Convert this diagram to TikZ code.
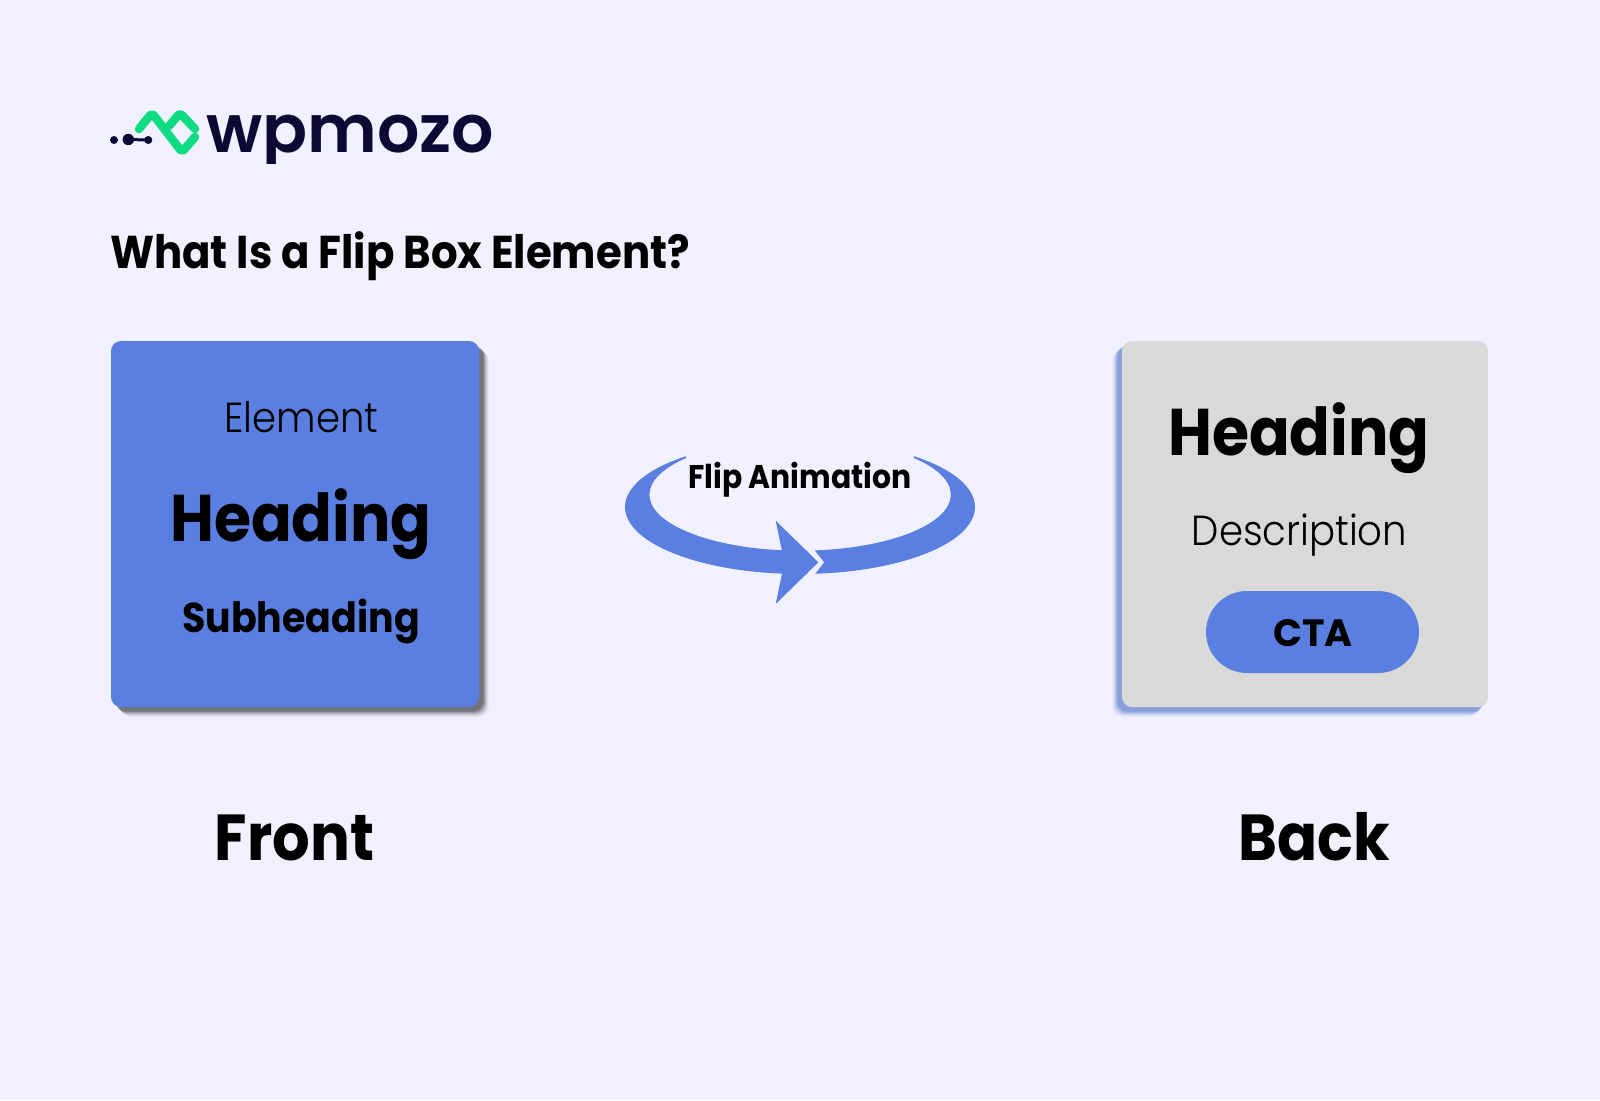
\documentclass[tikz,border=0pt]{standalone}
\usepackage{fontspec}
\setmainfont{Poppins}[BoldFont={Poppins Bold}]
\newfontfamily\headfont{Poppins Bold}[FakeStretch=0.91]
\newfontfamily\thinfont{Poppins Light}[FakeStretch=0.92]
\newfontfamily\logofont{Poppins SemiBold}

\definecolor{pagebg}{HTML}{F0F0FF}
\definecolor{flipblue}{HTML}{5A7FE0}
\definecolor{backshadow}{HTML}{4E74C8}
\definecolor{cardgray}{HTML}{D9D9D9}
\definecolor{logogreen}{HTML}{0EDC84}
\definecolor{logonavy}{HTML}{0A0A35}

\tikzset{
  cardedge/.style={rounded corners=10pt},
  boldtxt/.style={anchor=base,text=black,font=\headfont\fontsize{#1}{#1}\selectfont},
  thintxt/.style={anchor=base,text=black,font=\thinfont\fontsize{#1}{#1}\selectfont},
  logostroke/.style={draw=logogreen,line width=8.5pt,line cap=round,line join=round,rounded corners=3pt}
}

\begin{document}
\begin{tikzpicture}[x=1pt,y=-1pt]
\useasboundingbox (0,0) rectangle (1600,1100);
\fill [pagebg] (0,0) rectangle (1600,1100);

% logo
\draw [logostroke] (139,129) -- (152,113) -- (182,152) -- (195,137);
\draw [logostroke] (169,126) -- (180,113) -- (195,129);
\fill [logonavy] (114,140) circle (4);
\fill [logonavy] (128.3,139.5) circle (5.7);
\fill [logonavy] (148.3,140) circle (4);
\draw [logonavy,line width=3pt] (128,139.5) -- (148,140);
\begin{scope}
\clip (200,100) rectangle (500,163);
\node (logotext) [anchor=base west,inner sep=0,text=logonavy,font=\logofont\fontsize{66.5}{66.5}\selectfont] at (206,152) {wpmozo};
\end{scope}

\node (title) [boldtxt=46,anchor=base west,inner sep=0] at (110,268) {What Is a Flip Box Element?};

% front card
\foreach \o/\a in {10/0.03,9/0.05,8/0.07,7/0.1,6/0.14,5/0.16,4/0.12} {
  \fill [black,opacity=\a,cardedge] (111+\o,341+\o) rectangle (479+\o,707+\o);
}
\fill [flipblue,cardedge] (111,341) rectangle (479,707);
\node (element) [thintxt=42] at (301.5,432) {Element};
\node (headfront) [boldtxt=66] at (301,541) {Heading};
\node (subhead) [boldtxt=41.7] at (301,632) {Subheading};

% back card
\foreach \o/\a in {10/0.04,9/0.07,8/0.1,7/0.14,6/0.2,5/0.22,4/0.15} {
  \fill [backshadow,opacity=\a,cardedge] (1122-\o,341+\o) rectangle (1488-\o,707+\o);
}
\fill [cardgray,cardedge] (1122,341) rectangle (1488,707);
\node (headback) [boldtxt=66] at (1299,455) {Heading};
\node (desc) [thintxt=42] at (1299.5,545) {Description};
\node (cta) [fill=flipblue,rounded corners=41pt,minimum width=213pt,minimum height=82pt,inner sep=0] at (1312.5,632) {};
\node (ctatext) [anchor=base,text=black,font=\bfseries\fontsize{38}{38}\selectfont] at (1313,646) {CTA};

% flip arrow
\fill [flipblue] (800,507) ++(229.4:175 and 67) arc (229.4:-49.4:175 and 67)
  -- (914,458) arc (-40.9:220.9:150.7 and 56) -- cycle;
\fill [pagebg] (807.3,549.7) -- (814,549.7) -- (824,562.3) -- (814,575.3) -- (807.3,575.3) -- cycle;
\fill [flipblue] (775.7,520.7) -- (818.3,562.3) -- (775.7,604) -- (782,574) -- (782,551) -- cycle;
\node (fliplabel) [boldtxt=32.8] at (800,488) {Flip Animation};

\node (front) [boldtxt=65] at (294.5,860) {Front};
\node (back) [boldtxt=65] at (1314,860) {Back};
\end{tikzpicture}
\end{document}
